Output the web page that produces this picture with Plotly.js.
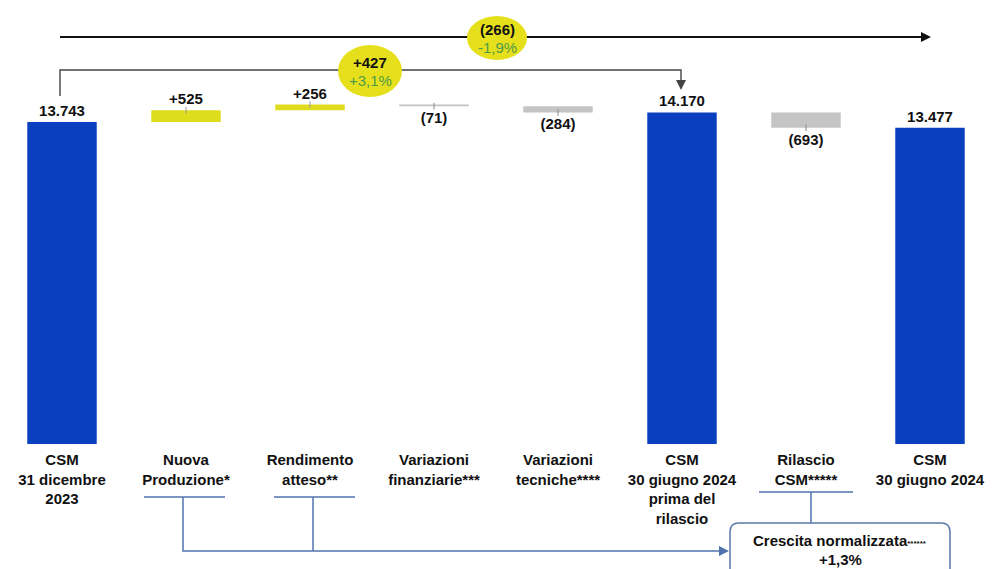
<!DOCTYPE html>
<html>
<head>
<meta charset="utf-8">
<script src="https://cdn.plot.ly/plotly-3.0.1.min.js"></script>
<style>
  html, body { margin: 0; padding: 0; background: #fff; }
  #chart { width: 992px; height: 569px; }
</style>
</head>
<body>
<div id="chart"></div>
<script>
// CSM movimentazione (milioni di euro)
const categorie = [
  'CSM<br>31 dicembre<br>2023',
  'Nuova<br>Produzione*',
  'Rendimento<br>atteso**',
  'Variazioni<br>finanziarie***',
  'Variazioni<br>tecniche****',
  'CSM<br>30 giugno 2024<br>prima del<br>rilascio',
  'Rilascio<br>CSM*****',
  'CSM<br>30 giugno 2024'
];
const tipo = ['totale', 'delta', 'delta', 'delta', 'delta', 'totale', 'delta', 'totale'];
const valori = [13743, 525, 256, -71, -284, 14170, -693, 13477];
const etichette = ['13.743', '+525', '+256', '(71)', '(284)', '14.170', '(693)', '13.477'];

const variazioneTotale = { valore: '(266)', perc: '-1,9%' };
const variazioneAnte = { valore: '+427', perc: '+3,1%' };
const crescitaNormalizzata = '+1,3%';

const BASE = -750;      // piede delle barre totali (asse non in scala)
const YMAX = 19230;
const W = 992, H = 444; // area grafico in px

const blu = '#0a3fbf', giallo = '#dfdc1e', grigio = '#c4c4c4';
const linea = '#4f74ad';

// costruzione barre: totali dal piede, delta flottanti dal cumulato
const tot = { x: [], y: [], base: [], text: [] };
const su = { x: [], y: [], base: [], text: [] };
const giu = { x: [], y: [], base: [], text: [] };
let cum = 0;
valori.forEach((v, i) => {
  const c = categorie[i];
  if (tipo[i] === 'totale') {
    cum = v;
    tot.x.push(c); tot.y.push(v - BASE); tot.base.push(BASE); tot.text.push(etichette[i]);
  } else {
    const g = v >= 0 ? su : giu;
    g.x.push(c); g.y.push(v); g.base.push(cum); g.text.push(etichette[i]);
    cum += v;
  }
});

const barra = (d, colore) => ({
  type: 'bar', x: d.x, y: d.y, base: d.base, text: d.text,
  textposition: 'outside', cliponaxis: false,
  textfont: { family: 'Liberation Sans, Arial', size: 15, color: '#111', weight: 'bold' },
  marker: { color: colore, line: { width: 0 } },
  width: 0.56, hoverinfo: 'skip'
});

const tracce = [
  barra(tot, blu),
  Object.assign(barra(su, giallo), { error_y: { type: 'constant', value: 150, width: 0, thickness: 1, color: '#999' } }),
  Object.assign(barra(giu, grigio), { error_y: { type: 'constant', value: 150, width: 0, thickness: 1, color: '#888' } })
];

// coordinate paper da pixel
const px = x => x / W;
const py = y => (H - y) / H;

const ellisse = (cx, cy, rx, ry) => ({
  type: 'circle', xref: 'paper', yref: 'paper',
  x0: px(cx - rx), x1: px(cx + rx), y0: py(cy + ry), y1: py(cy - ry),
  fillcolor: '#e6e01c', line: { width: 0 }, layer: 'above'
});
const seg = (pts, col, w) => ({
  type: 'path', xref: 'paper', yref: 'paper',
  path: 'M' + pts.map(p => px(p[0]) + ',' + py(p[1])).join(' L'),
  line: { color: col, width: w }
});
const r = 9, bx0 = 730, bx1 = 950, by0 = 523, by1 = 590;
const box = {
  type: 'path', xref: 'paper', yref: 'paper',
  path: `M${px(bx0)},${py(by1)} L${px(bx0)},${py(by0 + r)} Q${px(bx0)},${py(by0)} ${px(bx0 + r)},${py(by0)}` +
        ` L${px(bx1 - r)},${py(by0)} Q${px(bx1)},${py(by0)} ${px(bx1)},${py(by0 + r)} L${px(bx1)},${py(by1)} Z`,
  fillcolor: '#fff', line: { color: '#5a7aa8', width: 1.5 }
};

const shapes = [
  seg([[60, 37], [922, 37]], '#111', 2.2),
  seg([[60, 96], [60, 70], [681, 70], [681, 84]], '#444', 1.4),
  ellisse(497, 38, 30, 22),
  ellisse(370, 71, 32, 26),
  // parentesi sotto le etichette
  seg([[144, 497], [225, 497]], linea, 1.5),
  seg([[274, 497], [355, 497]], linea, 1.5),
  seg([[759, 492], [853, 492]], linea, 1.5),
  seg([[183, 497], [183, 551], [722, 551]], linea, 1.5),
  seg([[313, 497], [313, 551]], linea, 1.5),
  seg([[811, 492], [811, 523]], linea, 1.5),
  box
];

const fnt = (size, color, bold) => ({ family: 'Liberation Sans, Arial', size: size, color: color, weight: bold ? 'bold' : 'normal' });
const testo = (x, y, t, f) => ({
  xref: 'paper', yref: 'paper', x: px(x), y: py(y), text: t, showarrow: false,
  xanchor: 'center', yanchor: 'middle', font: f
});
const freccia = (x, y, ax, ay, col) => ({
  xref: 'paper', yref: 'paper', x: px(x), y: py(y), ax: ax, ay: ay, text: '',
  showarrow: true, arrowhead: 2, arrowsize: 1, arrowwidth: 2, arrowcolor: col, standoff: 0
});

const annotations = [
  testo(497, 29, '<b>' + variazioneTotale.valore + '</b>', fnt(15, '#111', true)),
  testo(497, 47, variazioneTotale.perc, fnt(15, '#4e9a48', false)),
  testo(370, 62, '<b>' + variazioneAnte.valore + '</b>', fnt(15, '#111', true)),
  testo(370, 80, variazioneAnte.perc, fnt(15, '#4e9a48', false)),
  testo(840, 540, '<b>Crescita normalizzata</b><span style="font-size:8px">******</span>', fnt(15, '#111', true)),
  testo(840, 559, '<b>' + crescitaNormalizzata + '</b>', fnt(15, '#111', true)),
  freccia(931, 37, -14, 0, '#111'),
  freccia(681, 90, 0, -8, '#444'),
  freccia(729, 551, -10, 0, linea)
];

Plotly.newPlot('chart', tracce, {
  width: 992, height: 569,
  margin: { l: 0, r: 0, t: 0, b: 125 },
  paper_bgcolor: '#fff', plot_bgcolor: '#fff',
  barmode: 'overlay',
  showlegend: false,
  xaxis: {
    type: 'category', categoryorder: 'array', categoryarray: categorie,
    showline: false, showgrid: false, zeroline: false, ticks: '',
    tickfont: { family: 'Liberation Sans, Arial', size: 15, color: '#111', weight: 'bold' },
    ticklabelstandoff: 5
  },
  yaxis: {
    range: [BASE, YMAX], visible: false, showgrid: false, zeroline: false
  },
  shapes: shapes,
  annotations: annotations
}, { staticPlot: true });
</script>
</body>
</html>
